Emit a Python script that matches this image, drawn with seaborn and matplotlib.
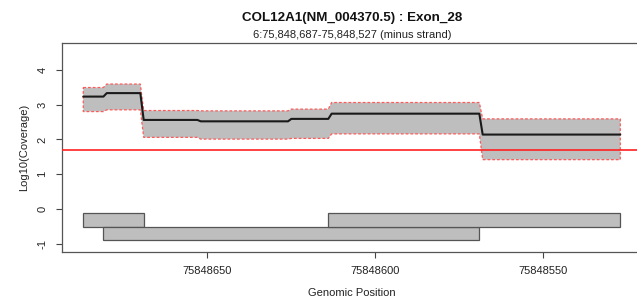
import numpy as np
import pandas as pd
import seaborn as sns
import matplotlib.pyplot as plt
from matplotlib.patches import Rectangle
from matplotlib.ticker import FixedLocator, FixedFormatter

# coverage segments (genomic positions, minus strand)
seg_start = [75848687, 75848680, 75848669, 75848652, 75848625, 75848613, 75848568]
seg_end = [75848681, 75848670, 75848653, 75848626, 75848614, 75848569, 75848527]
seg_mean = [3.23, 3.33, 2.56, 2.52, 2.59, 2.74, 2.14]
seg_upper = [3.49, 3.59, 2.83, 2.82, 2.87, 3.06, 2.59]
seg_lower = [2.80, 2.85, 2.06, 2.01, 2.03, 2.16, 1.42]

threshold = np.log10(50)

# amplicon / read blocks: start, end, lower y, upper y
blk_start = [75848687, 75848681, 75848614]
blk_end = [75848669, 75848569, 75848527]
blk_y0 = [-0.5, -0.9, -0.5]
blk_y1 = [-0.1, -0.5, -0.1]

xticks = [75848650, 75848600, 75848550]
yticks = [-1, 0, 1, 2, 3, 4]

title = "COL12A1(NM_004370.5) : Exon_28"
subtitle = "6:75,848,687-75,848,527 (minus strand)"

sns.set_style("white")
plt.rcParams['font.family'] = ['Liberation Sans', 'DejaVu Sans']

pos, mean, up, lo = [], [], [], []
for s, e, m, u, l in zip(seg_start, seg_end, seg_mean, seg_upper, seg_lower):
    pos += [s, e]
    mean += [m, m]
    up += [u, u]
    lo += [l, l]
df = pd.DataFrame({"pos": pos, "mean": mean})

fig = plt.figure(figsize=(6.37, 3.08), dpi=100)
ax = fig.add_axes([0.097, 0.183, 0.9105, 0.6776])

# band polygon
poly_x = pos + pos[::-1]
poly_y = up + lo[::-1]
ax.fill(poly_x, poly_y, facecolor="#bebebe", edgecolor="#ff5a5a",
        linestyle=(0, (2.2, 1.6)), linewidth=0.9, zorder=2)

sns.lineplot(data=df, x="pos", y="mean", sort=False, estimator=None,
             color="#1a1a1a", linewidth=1.5, ax=ax, zorder=3)

ax.axhline(threshold, color="#ff2020", linewidth=1.2, zorder=4)

for s, e, y0, y1 in zip(blk_start, blk_end, blk_y0, blk_y1):
    ax.add_patch(Rectangle((s, y0), e - s, y1 - y0, facecolor="#bebebe",
                           edgecolor="#555555", linewidth=0.9, zorder=2))

ax.set_xlim(75848693.4, 75848520.6)
ax.set_ylim(-1.22, 4.77)

ax.xaxis.set_major_locator(FixedLocator(xticks))
ax.xaxis.set_major_formatter(FixedFormatter([str(t) for t in xticks]))
ax.yaxis.set_major_locator(FixedLocator(yticks))
ax.set_yticklabels([str(t) for t in yticks], rotation=90, va="center")

ax.tick_params(axis="both", direction="out", length=4.3, width=0.8,
               color="#444444", labelsize=8, labelcolor="#222222",
               bottom=True, left=True)
ax.tick_params(axis="x", pad=6)
ax.tick_params(axis="y", pad=6)

for sp in ax.spines.values():
    sp.set_color("#555555")
    sp.set_linewidth(0.9)

ax.set_xlabel("Genomic Position", fontsize=8, color="#222222", labelpad=9)
ax.set_ylabel("Log10(Coverage)", fontsize=8, color="#222222", labelpad=6)

fig.text(0.5525, 0.9334, title, ha="center", va="baseline", fontsize=9.6,
         fontweight="bold", color="#111111")
fig.text(0.5525, 0.8766, subtitle, ha="center", va="baseline", fontsize=8,
         color="#222222")

fig.savefig("out.png", dpi=100)
